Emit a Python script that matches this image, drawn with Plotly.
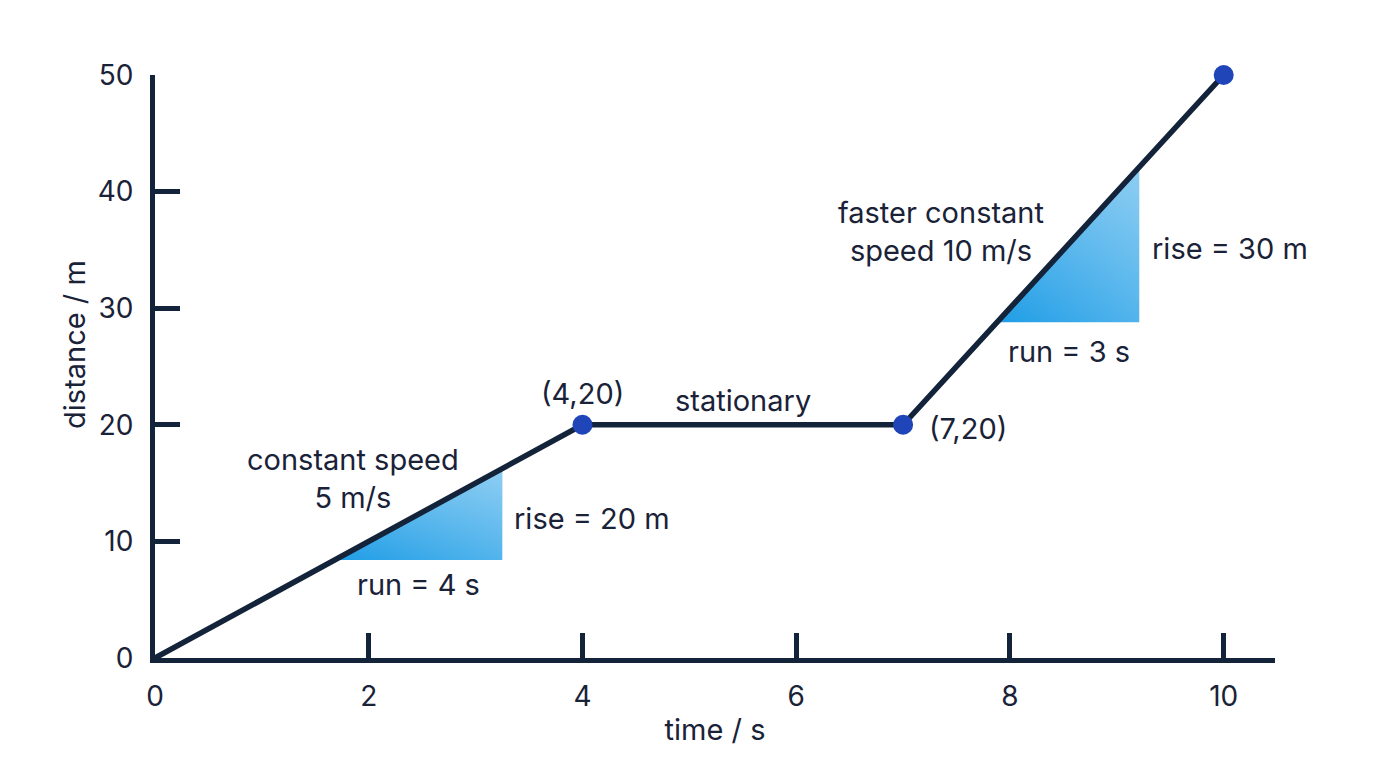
import plotly.graph_objects as go

# distance-time graph data
time_s = [0, 4, 7, 10]
distance_m = [0, 20, 20, 50]

# labelled points
pt_x = [4, 7, 10]
pt_y = [20, 20, 50]

# gradient triangles (run / rise) sitting on the line
tri1_x = [1.68, 3.25, 3.25, 1.68]
tri1_y = [8.4, 8.4, 16.25, 8.4]
tri2_x = [7.88, 9.21, 9.21, 7.88]
tri2_y = [28.8, 28.8, 42.1, 28.8]

x_ticks = [0, 2, 4, 6, 8, 10]
y_ticks = [0, 10, 20, 30, 40, 50]

ink = '#13233a'
txt = '#1a2238'
font_family = 'Inter, "Noto Sans", sans-serif'
fsize = 29
tsize = 28

fig = go.Figure()

for tx, ty in [(tri1_x, tri1_y), (tri2_x, tri2_y)]:
    # base colour runs left to right
    fig.add_trace(go.Scatter(
        x=tx, y=ty, mode='none', fill='toself',
        fillgradient=dict(type='horizontal',
                          colorscale=[[0, '#1f9de6'], [1, '#52b4ec']]),
        hoverinfo='skip', showlegend=False
    ))
    # lighten towards the top for a diagonal feel
    fig.add_trace(go.Scatter(
        x=tx, y=ty, mode='none', fill='toself',
        fillgradient=dict(type='vertical',
                          colorscale=[[0, 'rgba(255,255,255,0)'],
                                      [1, 'rgba(255,255,255,0.35)']]),
        hoverinfo='skip', showlegend=False
    ))

fig.add_trace(go.Scatter(
    x=time_s, y=distance_m, mode='lines',
    line=dict(color=ink, width=5.5),
    showlegend=False, cliponaxis=False
))

fig.add_trace(go.Scatter(
    x=pt_x, y=pt_y, mode='markers',
    marker=dict(color='#1f45b8', size=20),
    showlegend=False, cliponaxis=False
))

# text labels: (x, y, text, xanchor)
labels = [
    (4.0, 22.7, '(4,20)', 'center'),
    (5.5, 22.1, 'stationary', 'center'),
    (7.22, 19.7, '(7,20)', 'left'),
    (1.85, 15.4, 'constant speed<br>5 m/s', 'center'),
    (3.34, 12.0, 'rise = 20 m', 'left'),
    (2.47, 6.3, 'run = 4 s', 'center'),
    (7.35, 36.6, 'faster constant<br>speed 10 m/s', 'center'),
    (9.31, 35.1, 'rise = 30 m', 'left'),
    (8.55, 26.3, 'run = 3 s', 'center'),
]
for lx, ly, lt, xa in labels:
    fig.add_annotation(x=lx, y=ly, text=lt, xanchor=xa, yanchor='middle',
                       showarrow=False, align='center',
                       font=dict(size=fsize, color=txt, family=font_family))

# y axis title placed by hand
fig.add_annotation(x=-0.0714, y=0.537, xref='paper', yref='paper',
                   text='distance / m', textangle=-90, showarrow=False,
                   xanchor='center', yanchor='middle',
                   font=dict(size=fsize, color=txt, family=font_family))

axis_common = dict(
    showline=True, linecolor=ink, linewidth=5,
    ticks='inside', ticklen=25, tickwidth=5, tickcolor=ink,
    showgrid=False, zeroline=False, automargin=True,
    tickfont=dict(size=tsize, color=txt, family=font_family),
)

fig.update_xaxes(range=[0, 10.48], tickvals=x_ticks,
                 title=dict(text='time / s', standoff=10,
                            font=dict(size=fsize, color=txt, family=font_family)),
                 ticklabelstandoff=9, **axis_common)
fig.update_yaxes(range=[0, 50], tickvals=y_ticks,
                 ticklabelstandoff=11, **axis_common)

fig.update_layout(
    width=1376, height=768,
    margin=dict(l=147, r=109, t=67, b=118),
    paper_bgcolor='white', plot_bgcolor='white',
    showlegend=False,
)

fig.write_html("out.html")
